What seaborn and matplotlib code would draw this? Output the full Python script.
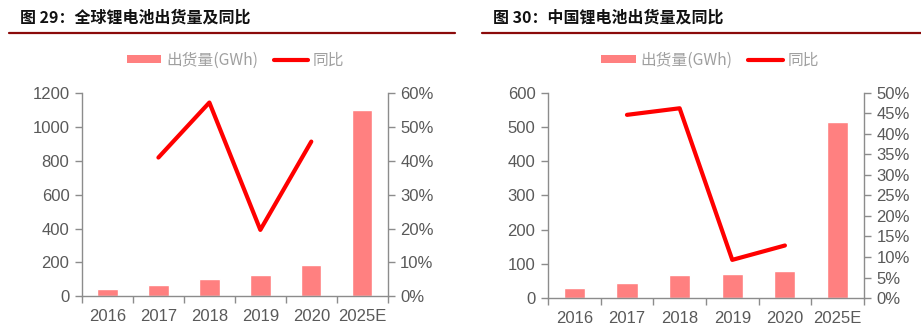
import numpy as np
import pandas as pd
import matplotlib
matplotlib.use("Agg")
import matplotlib.pyplot as plt
import seaborn as sns
from matplotlib.patches import Patch
from matplotlib.lines import Line2D
from matplotlib.ticker import FuncFormatter, MultipleLocator

# ---- data ----
years = ["2016", "2017", "2018", "2019", "2020", "2025E"]
global_ship = [43, 65, 101, 125, 186, 1100]
global_yoy = [np.nan, 40.9, 57.1, 19.6, 45.6, np.nan]
china_ship = [29, 43, 66, 71, 78, 515]
china_yoy = [np.nan, 44.6, 46.2, 9.3, 12.8, np.nan]

titles = ["图 29：全球锂电池出货量及同比", "图 30：中国锂电池出货量及同比"]
bar_label = "出货量(GWh)"
line_label = "同比"

sns.set_theme(style="white")
plt.rcParams["font.family"] = ["Liberation Sans", "Noto Sans CJK SC", "DejaVu Sans"]

BAR_C = "#FF8080"
LINE_C = "#FF0000"
SPINE_C = "#8C8C8C"
TICK_C = "#595959"

fig = plt.figure(figsize=(9.21, 3.24), dpi=100)

panels = [
    dict(ship=global_ship, yoy=global_yoy, rect=[0.089, 0.085, 0.332, 0.629],
         ymax=1200, ystep=200, pmax=60, pstep=10, title=titles[0],
         tx=20 / 921, rule=(9 / 921, 455 / 921), legx=0.256),
    dict(ship=china_ship, yoy=china_yoy, rect=[0.595, 0.080, 0.343, 0.634],
         ymax=600, ystep=100, pmax=50, pstep=5, title=titles[1],
         tx=493 / 921, rule=(482 / 921, 1.0), legx=0.771),
]

for p in panels:
    ax = fig.add_axes(p["rect"])
    df = pd.DataFrame({"year": years, "ship": p["ship"], "yoy": p["yoy"]})
    sns.barplot(data=df, x="year", y="ship", color=BAR_C, width=0.4,
                saturation=1, ax=ax)
    ax.set_xlim(-0.5, len(years) - 0.5)
    ax.set_ylim(0, p["ymax"])
    ax.yaxis.set_major_locator(MultipleLocator(p["ystep"]))
    ax.set_xlabel("")
    ax.set_ylabel("")

    ax2 = ax.twinx()
    df["pos"] = np.arange(len(years))
    sns.lineplot(data=df, x="pos", y="yoy", color=LINE_C, linewidth=3, ax=ax2)
    ax2.set_ylim(0, p["pmax"])
    ax2.yaxis.set_major_locator(MultipleLocator(p["pstep"]))
    ax2.yaxis.set_major_formatter(FuncFormatter(lambda v, _: f"{v:.0f}%"))
    ax2.set_xlim(-0.5, len(years) - 0.5)
    ax2.set_xlabel("")
    ax2.set_ylabel("")

    # x ticks: marks at category boundaries, labels at centers
    ax.set_xticks(np.arange(-0.5, len(years)), labels=[""] * (len(years) + 1))
    ax.set_xticks(np.arange(len(years)), labels=years, minor=True)
    ax.tick_params(axis="x", which="major", direction="out", length=5,
                   width=1, color=SPINE_C, bottom=True)
    ax.tick_params(axis="x", which="minor", length=0, labelsize=12,
                   labelcolor=TICK_C, pad=9)
    ax.tick_params(axis="y", direction="out", length=5, width=1,
                   color=SPINE_C, left=True, labelsize=12, labelcolor=TICK_C, pad=4)
    ax2.tick_params(axis="y", direction="out", length=5, width=1,
                    color=SPINE_C, right=True, labelsize=12, labelcolor=TICK_C, pad=4)

    for a in (ax, ax2):
        a.spines["top"].set_visible(False)
        for s in ("left", "right", "bottom"):
            a.spines[s].set_color(SPINE_C)
            a.spines[s].set_linewidth(1)
        a.grid(False)
    ax.spines["right"].set_visible(False)
    ax2.spines["left"].set_visible(False)
    ax2.spines["bottom"].set_visible(False)

    # title and rule
    fig.text(p["tx"], 1 - 18 / 324, p["title"], ha="left", va="center",
             fontsize=11.5, fontweight="bold", color="#111111",
             family=["Noto Sans CJK SC", "DejaVu Sans"])
    fig.add_artist(Line2D([p["rule"][0], p["rule"][1]], [1 - 33 / 324, 1 - 33 / 324],
                          transform=fig.transFigure, color="#8B0A0A", linewidth=1.6))

    handles = [Patch(facecolor=BAR_C, edgecolor="none"),
               Line2D([0], [0], color=LINE_C, linewidth=3)]
    leg = fig.legend(handles, [bar_label, line_label], loc="center",
                     bbox_to_anchor=(p["legx"], 1 - 60 / 324), ncol=2,
                     frameon=False, handlelength=2.2,
                     handleheight=0.45, handletextpad=0.3, columnspacing=1.0,
                     prop={"family": ["Noto Sans CJK SC", "DejaVu Sans"], "size": 11.3})
    for t in leg.get_texts():
        t.set_color("#A0A0A0")

fig.savefig("out.png", dpi=100)
